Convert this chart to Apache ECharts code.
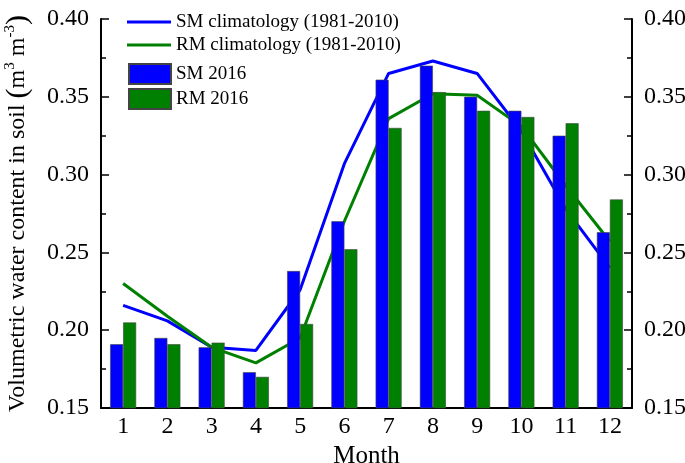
<!DOCTYPE html>
<html>
<head>
<meta charset="utf-8">
<script src="https://cdn.jsdelivr.net/npm/echarts@6/dist/echarts.min.js"></script>
<style>html,body{margin:0;padding:0;background:#fff}#c{width:685px;height:463px}</style>
</head>
<body>
<div id="c"></div>
<script>
const months = ['1','2','3','4','5','6','7','8','9','10','11','12'];
const smClim = [0.216,0.206,0.189,0.187,0.226,0.307,0.365,0.373,0.365,0.328,0.278,0.240];
const rmClim = [0.230,0.209,0.189,0.179,0.195,0.270,0.336,0.352,0.351,0.331,0.293,0.257];
const sm2016 = [0.191,0.195,0.189,0.173,0.238,0.270,0.361,0.370,0.350,0.341,0.325,0.263];
const rm2016 = [0.205,0.191,0.192,0.170,0.204,0.252,0.330,0.353,0.341,0.337,0.333,0.284];
const seriesNames = ['SM climatology (1981-2010)','RM climatology (1981-2010)','SM 2016','RM 2016'];

const FONT = "'Liberation Serif', 'Times New Roman', serif";
const BLUE = '#0000ff', GREEN = '#008000';
const LINE_ICON = 'path://M0,0L0.01,0M0,8.6L44,8.6L44,11.4L0,11.4ZM0,20L0.01,20';
const chart = echarts.init(document.getElementById('c'), null, {renderer:'canvas'});

function yAxis(pos) {
  return {
    type: 'value', position: pos, min: 0.15, max: 0.40, interval: 0.05,
    axisLine: {show: true, lineStyle: {color: '#000', width: 2}},
    axisTick: {show: true, inside: true, length: 8, lineStyle: {color: '#000', width: 1.5}},
    minorTick: {show: true, splitNumber: 2, length: 5, lineStyle: {color: '#000', width: 1.5}},
    splitLine: {show: false},
    axisLabel: {fontFamily: FONT, fontSize: 24, color: '#000', margin: 12,
      formatter: v => v.toFixed(2)}
  };
}
const yl = yAxis('left');
yl.name = '{a|Volumetric water content in soil }{p|(}{a|m}{s|3}{a| m}{s|-3}{p|)}';
yl.nameLocation = 'middle';
yl.nameGap = 68;
yl.nameTextStyle = {
  fontFamily: FONT, color: '#000',
  rich: {
    a: {fontFamily: FONT, fontSize: 24, color: '#000', lineHeight: 30},
    p: {fontFamily: FONT, fontSize: 30, color: '#000', lineHeight: 30},
    s: {fontFamily: FONT, fontSize: 15, color: '#000', verticalAlign: 'top', lineHeight: 30, padding: [0,0,12,0]}
  }
};
const yr = yAxis('right');

chart.setOption({
  animation: false,
  backgroundColor: '#fff',
  grid: {left: 101, right: 53, top: 19, bottom: 55, containLabel: false, outerBoundsMode: 'none'},
  legend: [{
    data: [{name: seriesNames[0], icon: LINE_ICON}, {name: seriesNames[1], icon: LINE_ICON}],
    orient: 'vertical', left: 122, top: 7,
    itemWidth: 44, itemHeight: 20, itemGap: 3,
    textStyle: {fontFamily: FONT, fontSize: 19, color: '#000'}
  }, {
    data: seriesNames.slice(2), orient: 'vertical', left: 123, top: 58,
    itemWidth: 42, itemHeight: 20, itemGap: 3, icon: 'rect',
    textStyle: {fontFamily: FONT, fontSize: 19, color: '#000'}
  }],
  xAxis: {
    type: 'category', data: months, name: 'Month', nameLocation: 'middle', nameGap: 32,
    nameTextStyle: {fontFamily: FONT, fontSize: 25, color: '#000'},
    axisLine: {lineStyle: {color: '#000', width: 2}},
    axisTick: {show: false},
    axisLabel: {fontFamily: FONT, fontSize: 24, color: '#000', margin: 7}
  },
  yAxis: [yl, yr],
  series: [
    {name: seriesNames[0], type: 'line', data: smClim, symbol: 'none', z: 1,
     lineStyle: {color: BLUE, width: 3}, itemStyle: {color: BLUE}},
    {name: seriesNames[1], type: 'line', data: rmClim, symbol: 'none', z: 1,
     lineStyle: {color: GREEN, width: 3}, itemStyle: {color: GREEN}},
    {name: seriesNames[2], type: 'bar', data: sm2016, barWidth: 13, barGap: '0%', z: 3,
     itemStyle: {color: BLUE, borderColor: '#444', borderWidth: 0.6}},
    {name: seriesNames[3], type: 'bar', data: rm2016, barWidth: 13, barGap: '0%', z: 3,
     itemStyle: {color: GREEN, borderColor: '#444', borderWidth: 0.6}}
  ]
});
</script>
</body>
</html>
